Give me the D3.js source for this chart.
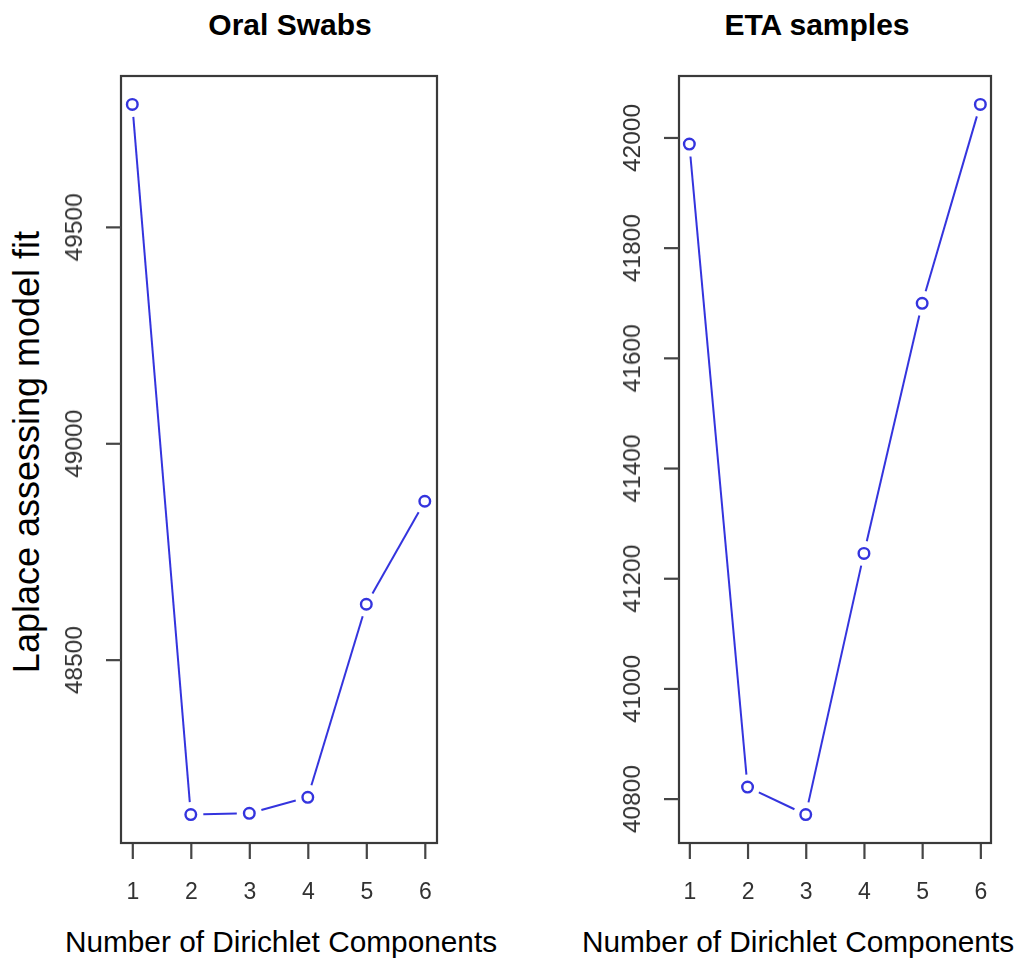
<!DOCTYPE html>
<html>
<head>
<meta charset="utf-8">
<script src="https://cdn.jsdelivr.net/npm/d3@7"></script>
<style>
  html, body { margin: 0; padding: 0; background: #fff; }
  svg { display: block; }
  text { font-family: "Liberation Sans", Arial, Helvetica, sans-serif; }
</style>
</head>
<body>
<svg id="chart" width="1033" height="960"></svg>
<script>
// Number of Dirichlet mixture components tried
const components = [1, 2, 3, 4, 5, 6];
// Laplace approximation of model fit per component count
const oralSwabs  = [49783, 48142, 48145, 48182, 48628, 48866];
const etaSamples = [41988, 40821, 40771, 41245, 41699, 42060];
// Axis tick labels
const xTicks = [1, 2, 3, 4, 5, 6];
const oralTicks = [48500, 49000, 49500];
const etaTicks = [40800, 41000, 41200, 41400, 41600, 41800, 42000];

const svg = d3.select("#chart");

// slight softening for the tick labels and tick marks
const defs = svg.append("defs");
defs.append("filter").attr("id", "soft")
  .attr("filterUnits", "userSpaceOnUse")
  .attr("x", -2000).attr("y", -2000).attr("width", 5000).attr("height", 5000)
  .append("feGaussianBlur").attr("stdDeviation", 0.55);

const blue = "#3434de";
const axisGrey = "#3a3a3a";

const panels = [
  { title: "Oral Swabs", titleX: 290, values: oralSwabs, ticks: oralTicks,
    x0: 120.6, x1: 436.5, left: 121, right: 437, labelX: 281, yLabel: true },
  { title: "ETA samples", titleX: 817, values: etaSamples, ticks: etaTicks,
    x0: 677.7, x1: 992, left: 679, right: 991, labelX: 798, yLabel: false }
];

const plotTop = 76, plotBottom = 843;

panels.forEach(p => {
  // R-style 4% padding on both axes
  const xs = d3.scaleLinear()
    .domain([1 - 0.04 * 5, 6 + 0.04 * 5])
    .range([p.x0, p.x1]);
  const [lo, hi] = d3.extent(p.values);
  const pad = (hi - lo) * 0.04;
  const ys = d3.scaleLinear().domain([lo - pad, hi + pad]).range([plotBottom, plotTop]);

  const g = svg.append("g");

  // plot frame
  g.append("rect")
    .attr("x", p.left).attr("y", plotTop)
    .attr("width", p.right - p.left).attr("height", plotBottom - plotTop)
    .attr("fill", "none").attr("stroke", axisGrey).attr("stroke-width", 2.2);

  // x axis: ticks below the frame
  const xAxis = d3.axisBottom(xs).tickValues(xTicks).tickSize(15).tickPadding(24)
    .tickFormat(d3.format("d"));
  const gx = g.append("g").attr("transform", `translate(0,${plotBottom + 1})`).call(xAxis);
  gx.select(".domain").remove();
  gx.selectAll(".tick line").attr("stroke", "#444").attr("stroke-width", 2.2)
    .attr("filter", "url(#soft)");
  gx.selectAll(".tick text").attr("fill", "#333").attr("font-size", 23)
    .attr("filter", "url(#soft)");

  // y axis: ticks left of the frame, labels rotated
  const yAxis = d3.axisLeft(ys).tickValues(p.ticks).tickSize(15).tickFormat(d3.format("d"));
  const gy = g.append("g").attr("transform", `translate(${p.left},0)`).call(yAxis);
  gy.select(".domain").remove();
  gy.selectAll(".tick line").attr("stroke", "#444").attr("stroke-width", 2.2)
    .attr("filter", "url(#soft)");
  gy.selectAll(".tick text")
    .attr("x", null).attr("dy", null)
    .attr("text-anchor", "middle")
    .attr("transform", "translate(-39,0) rotate(-90)")
    .attr("fill", "#333").attr("font-size", 24.5)
    .attr("filter", "url(#soft)");

  // connecting segments, broken around each point marker
  const pts = components.map((c, i) => [xs(c), ys(p.values[i])]);
  const gap = 12.5;
  const segs = [];
  for (let i = 0; i < pts.length - 1; i++) {
    const [ax, ay] = pts[i], [bx, by] = pts[i + 1];
    const len = Math.hypot(bx - ax, by - ay);
    if (len <= 2 * gap) continue;
    const ux = (bx - ax) / len, uy = (by - ay) / len;
    segs.push([ax + ux * gap, ay + uy * gap, bx - ux * gap, by - uy * gap]);
  }
  g.selectAll("line.seg").data(segs).join("line")
    .attr("class", "seg")
    .attr("x1", d => d[0]).attr("y1", d => d[1])
    .attr("x2", d => d[2]).attr("y2", d => d[3])
    .attr("stroke", blue).attr("stroke-width", 2);

  g.selectAll("circle.pt").data(pts).join("circle")
    .attr("class", "pt")
    .attr("cx", d => d[0]).attr("cy", d => d[1]).attr("r", 5.3)
    .attr("fill", "none").attr("stroke", blue).attr("stroke-width", 2.4);

  // titles
  g.append("text")
    .attr("x", p.titleX).attr("y", 35)
    .attr("text-anchor", "middle")
    .attr("font-size", 30).attr("font-weight", "bold").attr("fill", "#000")
    .text(p.title);

  g.append("text")
    .attr("x", p.labelX).attr("y", 952)
    .attr("text-anchor", "middle")
    .attr("font-size", 29.8).attr("fill", "#000")
    .text("Number of Dirichlet Components");

  if (p.yLabel) {
    g.append("text")
      .attr("transform", "translate(39,452) rotate(-90)")
      .attr("text-anchor", "middle")
      .attr("font-size", 36).attr("fill", "#000")
      .text("Laplace assessing model fit");
  }
});
</script>
</body>
</html>
